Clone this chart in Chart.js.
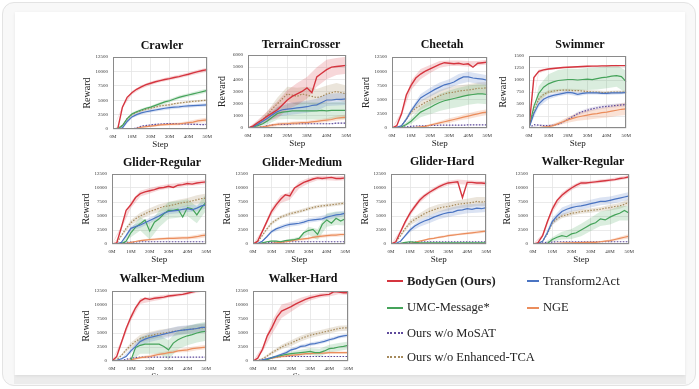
<!DOCTYPE html>
<html><head><meta charset="utf-8">
<script src="https://cdn.jsdelivr.net/npm/chart.js@4.4.1/dist/chart.umd.min.js"></script>
<style>
 html,body{margin:0;padding:0;background:#fff;}
 body{width:699px;height:389px;position:relative;overflow:hidden;}
 #frame{position:absolute;left:2px;top:2px;width:694px;height:384px;border:1px solid #e3e3e3;border-radius:12px;background:#f8f8f8;box-sizing:border-box;overflow:hidden;}
 #strip{position:absolute;left:14px;top:375px;width:672px;height:9px;background:#ececec;}
 #card{position:absolute;left:15px;top:12px;width:670px;height:363px;background:#fff;overflow:hidden;box-shadow:0 1px 3px rgba(0,0,0,0.08);}
 .ttl{position:absolute;width:140px;text-align:center;font:bold 12px/14px "Liberation Serif",serif;color:#111;}
 canvas{position:absolute;}
 .lg{position:absolute;font:12.5px/15px "Liberation Serif",serif;color:#222;white-space:nowrap;}
 .sw{position:absolute;}
</style></head><body>
<div id="frame"></div><div id="strip"></div><div id="card"></div>
<script>
// ---------------- data ----------------
const steps = [0,2.5,5,7.5,10,12.5,15,17.5,20,22.5,25,27.5,30,32.5,35,37.5,40,42.5,45,47.5,50];
const bandSteps = [0,5,10,15,20,25,30,35,40,45,50];
const stepTicks = [0,10,20,30,40,50];
const stepTickLabels = ['0M','10M','20M','30M','40M','50M'];
const rewardTicks = [0,2500,5000,7500,10000,12500];
const terrainTicks = [0,1000,2000,3000,4000,5000,6000];
const swimmerTicks = [0,250,500,750,1000,1250,1500];

const seriesNames = ['BodyGen (Ours)','Transform2Act','UMC-Message*','NGE','Ours w/o MoSAT','Ours w/o Enhanced-TCA'];
const taskNames = ['Crawler','TerrainCrosser','Cheetah','Swimmer','Glider-Regular','Glider-Medium','Glider-Hard','Walker-Regular','Walker-Medium','Walker-Hard'];

// series order in each task: BodyGen, Transform2Act, UMC-Message*, NGE, w/o MoSAT, w/o Enhanced-TCA
const crawlerMean = [
 [0,0,3800,5500,6300,6900,7300,7700,7950,8200,8400,8600,8750,8950,9100,9300,9500,9750,9950,10150,10300],
 [0,0,200,1300,2100,2500,2800,3000,3150,3300,3450,3600,3700,3800,3850,3950,4000,4050,4100,4150,4200],
 [0,0,600,1800,2600,3000,3300,3600,3800,4100,4400,4700,4900,5200,5500,5700,5900,6100,6300,6500,6700],
 [0,0,0,0,0,100,300,400,500,600,700,750,800,850,900,1000,1100,1200,1400,1500,1600],
 [0,0,0,0,0,200,500,600,700,800,850,900,950,950,900,900,850,800,800,750,800],
 [0,0,600,1800,2500,2900,3200,3400,3600,3800,4000,4100,4200,4400,4500,4600,4700,4800,4850,4950,5000]];
const crawlerStd = [
 [0,200,300,300,300,300,300,300,300,350,350],
 [0,150,250,300,300,300,300,300,300,300,300],
 [0,150,250,250,250,300,300,300,300,350,350],
 [0,0,0,100,150,200,200,250,300,350,400],
 [0,0,0,100,150,150,150,150,150,150,150],
 [0,150,200,200,200,200,200,200,200,200,200]];

const terrainMean = [
 [0,150,450,700,1000,1250,1500,1900,2300,2600,2800,3000,3300,2900,4200,4500,4800,5000,5050,5100,5150],
 [0,100,300,550,800,1100,1350,1500,1550,1600,1650,1700,1750,1850,1900,2100,2300,2300,2350,2350,2400],
 [0,80,200,350,600,900,1200,1300,1350,1400,1400,1400,1400,1400,1400,1450,1400,1450,1450,1450,1450],
 [0,0,50,100,150,250,300,350,350,400,400,450,450,500,550,600,650,700,800,850,900],
 [0,0,50,100,200,250,300,300,300,350,350,350,350,350,350,350,350,350,400,400,400],
 [0,150,400,700,1100,1600,2000,2400,2800,2700,2600,2800,2700,2600,2500,2600,2800,2900,3000,2900,2800]];
const terrainStd = [
 [0,200,400,700,800,900,900,800,800,700,700],
 [0,150,300,400,500,500,500,500,500,500,500],
 [0,100,300,500,600,700,700,700,700,700,700],
 [0,50,100,150,150,150,150,150,150,200,200],
 [0,30,50,50,50,50,50,50,50,50,50],
 [0,150,300,500,600,700,700,700,700,700,700]];

const cheetahMean = [
 [0,400,2500,5800,7500,8800,9500,10000,10400,10800,11200,11500,11400,11300,11400,11200,11300,10700,11400,11500,11600],
 [0,100,400,1500,3000,4200,5300,5800,6300,6800,7200,7600,7800,8100,8600,9000,9000,8800,8700,8600,8400],
 [0,0,200,600,1200,2000,2800,3200,3600,4100,4500,4800,5000,5200,5400,5600,5800,5900,6000,6000,5900],
 [0,0,0,0,0,100,200,300,500,700,900,1100,1300,1500,1700,1900,2100,2300,2500,2700,2800],
 [0,0,100,200,300,350,400,400,450,450,500,500,500,500,500,500,550,550,550,550,550],
 [0,100,400,1500,2800,3500,4000,4500,4900,5300,5700,6000,6200,6300,6500,6600,6700,6800,7000,7000,7100]];
const cheetahStd = [
 [0,400,800,900,700,600,500,500,500,400,400],
 [0,100,400,700,800,800,800,900,900,900,900],
 [0,100,500,900,1200,1500,1600,1700,1700,1700,1700],
 [0,0,0,100,200,300,400,400,500,500,500],
 [0,50,50,50,50,50,50,50,50,50,50],
 [0,100,500,800,900,1000,1000,1000,1000,1000,1000]];

const swimmerMean = [
 [0,1050,1180,1210,1230,1240,1250,1260,1265,1270,1275,1280,1285,1290,1290,1295,1295,1300,1300,1300,1300],
 [0,300,500,600,650,680,700,720,740,730,700,720,730,730,730,720,720,730,730,730,740],
 [0,450,720,850,920,960,990,1000,1010,1010,1000,1010,1020,1010,1030,1050,1060,1080,1090,1070,960],
 [0,0,10,20,30,50,90,130,170,200,230,250,270,290,300,320,330,350,370,390,400],
 [0,70,60,50,50,60,80,120,180,240,300,340,370,400,420,440,450,460,470,480,490],
 [0,380,600,700,750,770,780,790,790,780,780,770,760,750,750,740,740,750,750,750,750]];
const swimmerStd = [
 [0,40,20,20,15,15,15,15,15,15,15],
 [0,60,50,40,40,40,30,30,30,30,30],
 [0,150,200,220,230,230,230,230,230,230,230],
 [0,10,20,40,60,80,100,100,110,120,130],
 [0,20,20,20,30,40,40,40,40,40,40],
 [0,60,40,30,30,30,30,30,30,30,30]];

const gliderRegMean = [
 [0,200,3000,6000,7000,8300,9000,9300,9500,9700,10000,10100,10300,10100,10500,10600,10800,10700,10900,11000,11100],
 [0,0,300,1500,2800,3100,3400,3800,4200,4600,5000,5500,5800,5900,6000,6200,6300,6100,6400,6800,7000],
 [0,0,100,500,2000,3000,3600,4300,2300,3900,4500,5400,6000,6000,6200,4800,6500,6300,5200,6500,7500],
 [0,0,0,100,300,450,600,700,800,850,900,950,1000,1000,1050,1100,1100,1200,1300,1500,1600],
 [0,0,200,300,350,350,400,400,400,400,400,400,400,400,400,400,400,400,400,400,400],
 [0,100,1500,2800,3800,4500,5000,5400,5800,6100,6400,6700,6800,7000,7200,7400,7500,7700,7900,8100,8200]];
const gliderRegStd = [
 [0,300,600,500,500,400,400,400,400,400,400],
 [0,100,400,500,500,500,500,500,600,600,600],
 [0,50,800,1200,1500,1500,1500,1500,1500,1500,1500],
 [0,0,50,150,200,200,250,300,300,350,400],
 [0,30,30,30,30,30,30,30,30,30,30],
 [0,200,500,600,600,700,700,700,700,800,800]];

const gliderMedMean = [
 [0,500,2200,4000,5800,7000,8000,8800,8600,10000,10500,11000,11300,11600,11800,11700,11800,11900,11700,11700,11800],
 [0,100,500,1300,2200,2700,3000,3300,3500,3600,3700,3900,4200,4300,4400,4500,4800,5000,5200,5300,5500],
 [0,0,200,400,500,500,400,600,700,800,1000,2000,2400,2600,1700,3500,4300,3700,4600,4100,4500],
 [0,0,0,50,100,200,300,400,500,700,800,900,1000,1200,1300,1400,1500,1600,1600,1700,1700],
 [0,0,100,200,300,350,350,400,400,400,400,400,400,400,400,400,400,400,400,400,400],
 [0,300,1500,2700,3700,4300,4800,5100,5400,5600,5800,6000,6300,6500,6700,6800,6900,7000,7100,7200,7300]];
const gliderMedStd = [
 [0,300,600,700,700,600,500,400,400,400,400],
 [0,100,300,400,400,400,400,400,500,500,500],
 [0,50,150,200,200,300,700,1000,1200,1200,1200],
 [0,0,50,100,150,200,250,300,300,300,300],
 [0,30,30,30,30,30,30,30,30,30,30],
 [0,200,300,300,300,300,300,300,300,300,300]];

const gliderHardMean = [
 [0,400,2200,4000,5500,6700,7800,8600,9200,9700,10200,10600,10900,11000,11100,8300,11000,11000,10900,10900,10800],
 [0,100,500,1500,2500,3200,3700,4100,4400,4800,5100,5400,5600,5700,6000,6100,6300,6200,6400,6300,6500],
 [0,0,100,300,400,300,200,200,200,200,200,200,200,200,200,200,200,200,200,200,200],
 [0,0,0,0,100,300,500,700,900,1000,1200,1300,1500,1600,1700,1800,1900,2000,2100,2200,2300],
 [0,0,100,200,300,350,400,400,400,400,400,400,400,400,400,400,400,400,400,400,400],
 [0,300,1500,2800,3800,4400,4900,5400,5800,6100,6400,6600,6700,6900,7100,7200,7300,7400,7600,7500,7600]];
const gliderHardStd = [
 [0,300,500,500,400,400,400,400,400,400,400],
 [0,100,400,600,700,700,800,800,800,800,800],
 [0,50,100,100,100,100,100,100,100,100,100],
 [0,0,50,100,150,200,200,200,200,250,250],
 [0,30,30,30,30,30,30,30,30,30,30],
 [0,200,500,600,700,700,700,700,800,800,800]];

const walkerRegMean = [
 [0,200,1500,4000,6200,7800,8700,9400,10000,10500,10900,10900,11000,11100,11200,11300,11400,11500,11700,11800,12000],
 [0,100,500,2000,4000,5000,5800,6200,6500,6700,6800,7000,7200,7400,7600,7600,7800,8000,8200,8400,8600],
 [0,0,0,100,800,1200,1500,1300,1800,2000,2500,3000,3500,3800,4500,4300,4800,5200,5500,6000,5500],
 [0,0,0,0,50,100,150,200,200,250,250,300,300,300,400,500,600,800,1000,1200,1400],
 [0,0,200,300,350,400,400,400,400,400,400,400,400,400,400,400,400,400,400,400,400],
 [0,100,500,1800,3800,4500,5000,5200,5500,5600,5800,5900,6000,6100,6200,6400,6500,6700,6800,7100,7500]];
const walkerRegStd = [
 [0,300,600,500,400,400,300,300,300,300,300],
 [0,100,600,700,700,700,700,700,700,700,700],
 [0,0,400,700,900,1100,1200,1300,1300,1300,1300],
 [0,0,50,100,100,150,150,150,200,300,400],
 [0,30,30,30,30,30,30,30,30,30,30],
 [0,100,400,400,400,400,400,400,500,500,600]];

const walkerMedMean = [
 [0,800,3300,5800,7800,9500,10700,11200,11000,11200,11300,11400,11600,11700,11800,11900,12100,12300,12500,12700,12800],
 [0,100,400,800,1800,2600,3500,3900,4200,4400,4600,4800,5000,5200,5400,5500,5600,5700,5800,6000,6000],
 [0,0,0,0,100,2400,2800,3000,3000,3000,3000,2600,2000,3200,3800,4200,4500,4700,5000,5200,5300],
 [0,0,0,50,200,400,600,700,800,1000,1200,1300,1500,1600,1800,1900,2000,2200,2300,2400,2500],
 [0,0,100,300,500,600,700,700,700,700,700,700,700,700,700,700,700,700,700,700,700],
 [0,200,1000,2000,2800,3500,4000,4300,4500,4700,4900,5000,5100,5300,5400,5500,5600,5700,5800,5900,6000]];
const walkerMedStd = [
 [0,400,600,500,400,400,300,300,300,300,300],
 [0,100,400,700,800,800,800,800,800,800,800],
 [0,0,100,1500,1700,1700,1700,1700,1700,1700,1700],
 [0,0,100,200,300,300,300,300,400,400,400],
 [0,30,30,30,30,30,30,30,30,30,30],
 [0,200,500,700,700,700,700,700,700,700,700]];

const walkerHardMean = [
 [0,500,2100,4500,6000,7800,8900,9300,9700,10200,10600,11000,11300,11500,11700,11800,11900,12400,12300,12200,12200],
 [0,0,200,400,600,900,1200,1500,2000,2200,2600,2700,3000,3100,3300,3500,3800,4000,4300,4500,4600],
 [0,0,100,300,600,800,1000,1200,1300,1400,1500,1600,1700,1500,1500,1800,2200,2300,2500,2600,2800],
 [0,0,100,300,500,700,800,900,1000,1100,1200,1300,1300,1400,1400,1400,1500,1500,1500,1500,1500],
 [0,0,200,400,600,700,800,800,800,800,800,800,800,800,800,800,800,800,800,800,800],
 [0,100,400,900,1500,2000,2500,2900,3200,3600,4000,4300,4600,4800,5000,5200,5400,5600,5800,5900,5900]];
const walkerHardStd = [
 [0,500,1200,1200,900,700,500,400,400,400,400],
 [0,50,150,250,300,300,300,300,300,300,300],
 [0,50,200,300,400,500,600,700,700,700,700],
 [0,50,150,200,200,200,200,200,200,200,200],
 [0,30,30,30,30,30,30,30,30,30,30],
 [0,200,300,400,500,500,500,500,500,500,500]];

const taskMeans = [crawlerMean,terrainMean,cheetahMean,swimmerMean,gliderRegMean,gliderMedMean,gliderHardMean,walkerRegMean,walkerMedMean,walkerHardMean];
const taskStds = [crawlerStd,terrainStd,cheetahStd,swimmerStd,gliderRegStd,gliderMedStd,gliderHardStd,walkerRegStd,walkerMedStd,walkerHardStd];
const taskYTicks = [rewardTicks,terrainTicks,rewardTicks,swimmerTicks,rewardTicks,rewardTicks,rewardTicks,rewardTicks,rewardTicks,rewardTicks];

// ---------------- styling / layout ----------------
const seriesColors = ['#d5353f','#4a74c2','#45a35a','#eb8d5c','#5e4a9c','#a68a5c'];
const bandColors = ['rgba(213,53,63,0.20)','rgba(74,116,194,0.20)','rgba(69,163,90,0.20)','rgba(235,141,92,0.25)','rgba(94,74,156,0.15)','rgba(166,138,92,0.22)'];
const dotted = [false,false,false,false,true,true];
// plot areas in page pixels [left, top, right, bottom]
const rects = [[113,53,213,129],[248,51,352,128],[392,53,493,128],[529,52,632,128],
               [112,170,212,244],[253,170,351,244],[391,170,492,244],[533,170,635,244],
               [112,287,212,361],[253,287,354,361]];
const titleCenters = [[162,45],[301,43.5],[442,44],[580,44],[162,161.5],[302,161.5],[442,160.5],[583,160.5],[162,277.5],[303,277.5]];
const CX = 15, CY = 12;
const FONT = '"Liberation Serif", "Times New Roman", serif';
const card = document.getElementById('card');

const boxPlugin = {
  id:'box',
  afterDraw(chart){
    const {ctx, chartArea:a} = chart;
    ctx.save(); ctx.strokeStyle='#8a8a8a'; ctx.lineWidth=1;
    ctx.strokeRect(Math.round(a.left)+0.5, Math.round(a.top)+0.5, Math.round(a.right-a.left)-1, Math.round(a.bottom-a.top)-1);
    ctx.restore();
  }
};

const YW = 34, XH = 21, PT = 4, PR = 4;
taskNames.forEach((name, i) => {
  const [l,t,r,b] = rects[i];
  const cw = (r-l) + YW + PR, ch = (b-t) + PT + XH;
  const cv = document.createElement('canvas');
  cv.width = cw; cv.height = ch;
  cv.style.left = (l - YW - CX) + 'px'; cv.style.top = (t - PT - CY) + 'px';
  cv.style.width = cw + 'px'; cv.style.height = ch + 'px';
  card.appendChild(cv);

  const tt = document.createElement('div');
  tt.className = 'ttl'; tt.textContent = name;
  tt.style.left = (titleCenters[i][0] - 70 - CX) + 'px';
  tt.style.top = (titleCenters[i][1] - 7 - CY) + 'px';
  card.appendChild(tt);

  const mean = taskMeans[i], std = taskStds[i], yt = taskYTicks[i];
  const datasets = [];
  for (let s = 0; s < 6; s++) {
    datasets.push({label: seriesNames[s], data: mean[s], borderColor: seriesColors[s],
      borderWidth: s === 0 ? 1.4 : 1.2, borderDash: dotted[s] ? [1.5,1.5] : [],
      pointRadius: 0, fill: false, tension: 0});
  }
  for (let s = 0; s < 6; s++) {
    datasets.push({data: bandSteps.map((x,k) => ({x, y: mean[s][2*k] + std[s][k]})),
      borderWidth: 0, pointRadius: 0, fill: '+1', backgroundColor: bandColors[s], tension: 0});
    datasets.push({data: bandSteps.map((x,k) => ({x, y: mean[s][2*k] - std[s][k]})),
      borderWidth: 0, pointRadius: 0, fill: false, tension: 0});
  }
  new Chart(cv, {
    type: 'line',
    data: {labels: steps, datasets},
    plugins: [boxPlugin],
    options: {
      responsive: false, animation: false, devicePixelRatio: 1,
      layout: {padding: {top: PT, right: PR, left: 0, bottom: 0}},
      plugins: {legend: {display: false}, tooltip: {enabled: false}},
      scales: {
        x: {type: 'linear', min: 0, max: 50,
          afterFit: s => { s.height = XH; },
          afterBuildTicks: s => { s.ticks = stepTicks.map(v => ({value: v})); },
          ticks: {callback: (v, idx) => stepTickLabels[idx], font: {family: FONT, size: 5}, color: '#333', padding: 5, maxRotation: 0, autoSkip: false},
          grid: {color: '#e4e4e4', lineWidth: 0.8, drawTicks: false}, border: {display: false},
          title: {display: true, text: 'Step', font: {family: FONT, size: 9}, color: '#222', padding: 0}},
        y: {min: 0, max: yt[yt.length-1],
          afterFit: s => { s.width = YW; },
          afterBuildTicks: s => { s.ticks = yt.map(v => ({value: v})); },
          ticks: {callback: v => String(v), font: {family: FONT, size: 5}, color: '#333', padding: 5, autoSkip: false},
          grid: {color: '#e4e4e4', lineWidth: 0.8, drawTicks: false}, border: {display: false},
          title: {display: true, text: 'Reward', font: {family: FONT, size: 10}, color: '#222', padding: {top: 2, bottom: 0}}}
      }
    }
  });
});

// ---------------- legend ----------------
const legendItems = [
  {s:0, lx:387, tx:407, y:281, bold:true},
  {s:1, lx:527, tx:543, y:281},
  {s:2, lx:387, tx:407, y:307.5},
  {s:3, lx:527, tx:543, y:307.5},
  {s:4, lx:387, tx:407, y:333},
  {s:5, lx:387, tx:407, y:357}];
legendItems.forEach(it => {
  const sw = document.createElement('div');
  sw.className = 'sw';
  const w = it.lx < 500 ? 16 : 12;
  sw.style.left = (it.lx - CX) + 'px'; sw.style.top = (it.y - 1 - CY) + 'px';
  sw.style.width = w + 'px';
  if (dotted[it.s]) { sw.style.borderTop = '2px dotted ' + seriesColors[it.s]; sw.style.height = '0'; }
  else { sw.style.height = '2px'; sw.style.background = seriesColors[it.s]; }
  card.appendChild(sw);
  const tx = document.createElement('div');
  tx.className = 'lg'; tx.textContent = seriesNames[it.s];
  if (it.bold) tx.style.fontWeight = 'bold';
  tx.style.left = (it.tx - CX) + 'px'; tx.style.top = (it.y - 7.5 - CY) + 'px';
  card.appendChild(tx);
});
</script></body></html>
